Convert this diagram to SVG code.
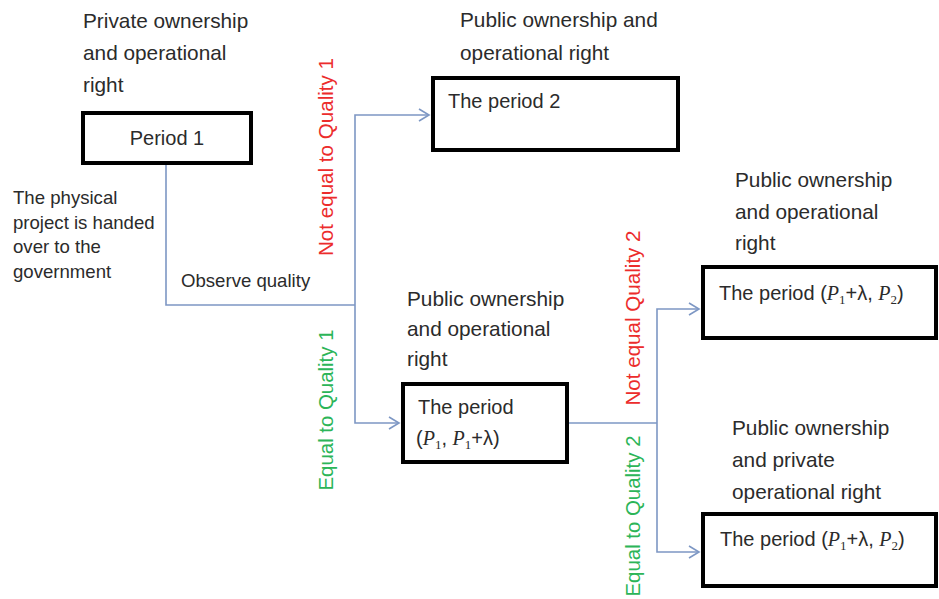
<svg xmlns="http://www.w3.org/2000/svg" width="939" height="599" viewBox="0 0 939 599">
<style>
  text { font-family: "Liberation Sans", Arial, sans-serif; fill: #2b2b2b; }
  .h { font-size: 20.8px; }
  .s { font-size: 18.6px; }
  .lbl { font-size: 20px; }
  .red { fill: #ec2c2c; font-size: 20.6px; }
  .grn { fill: #2cb558; font-size: 20.4px; }
  .box { fill: #ffffff; stroke: #000000; stroke-width: 4; }
  .con { fill: none; stroke: #7d97c4; stroke-width: 1.6; }
  .m { font-family: "Liberation Serif", "Times New Roman", serif; font-style: italic; }
  .sub { font-family: "Liberation Serif", "Times New Roman", serif; font-size: 13px; }
</style>
<defs>
  <marker id="arr" markerWidth="14" markerHeight="14" refX="12" refY="7" orient="auto" markerUnits="userSpaceOnUse">
    <polyline points="2,1 12,7 2,13" fill="none" stroke="#7d97c4" stroke-width="1.6"/>
  </marker>
</defs>
<rect width="939" height="599" fill="#ffffff"/>

<g id="connectors">
  <path class="con" d="M166,164 V305 H355"/>
  <path class="con" d="M355,305 V115 H429" marker-end="url(#arr)"/>
  <path class="con" d="M355,305 V423 H399" marker-end="url(#arr)"/>
  <path class="con" d="M567,423 H657"/>
  <path class="con" d="M657,423 V309 H699" marker-end="url(#arr)"/>
  <path class="con" d="M657,423 V552 H699" marker-end="url(#arr)"/>
</g>

<g id="labels">
  <text class="s" x="13" y="204">The physical</text>
  <text class="s" x="13" y="229">project is handed</text>
  <text class="s" x="13" y="253">over to the</text>
  <text class="s" x="13" y="278">government</text>
  <text class="s" x="181" y="287">Observe quality</text>
  <text class="red" transform="translate(333,157) rotate(-90)" text-anchor="middle">Not equal to Quality 1</text>
  <text class="grn" transform="translate(333,410) rotate(-90)" text-anchor="middle">Equal to Quality 1</text>
  <text class="red" transform="translate(640,318) rotate(-90)" text-anchor="middle">Not equal Quality 2</text>
  <text class="grn" transform="translate(640,516) rotate(-90)" text-anchor="middle">Equal to Quality 2</text>
</g>

<g id="node-period1">
  <text class="h" x="83" y="28">Private ownership</text>
  <text class="h" x="83" y="60">and operational</text>
  <text class="h" x="83" y="92">right</text>
  <rect class="box" x="83" y="113" width="168" height="50"/>
  <text class="lbl" x="167" y="145" text-anchor="middle">Period 1</text>
</g>

<g id="node-period2">
  <text class="h" x="460" y="27">Public ownership and</text>
  <text class="h" x="460" y="60">operational right</text>
  <rect class="box" x="433" y="78" width="245" height="72"/>
  <text class="lbl" x="448" y="108">The period 2</text>
</g>

<g id="node-period-p1">
  <text class="h" x="407" y="306">Public ownership</text>
  <text class="h" x="407" y="336">and operational</text>
  <text class="h" x="407" y="366">right</text>
  <rect class="box" x="403" y="384" width="164" height="78"/>
  <text class="lbl" x="418" y="414">The period</text>
  <text class="lbl" x="416" y="445">(<tspan class="m">P</tspan><tspan class="sub" dy="4">1</tspan><tspan dy="-4">, </tspan><tspan class="m">P</tspan><tspan class="sub" dy="4">1</tspan><tspan dy="-4">+λ)</tspan></text>
</g>

<g id="node-period-p2a">
  <text class="h" x="735" y="187">Public ownership</text>
  <text class="h" x="735" y="219">and operational</text>
  <text class="h" x="735" y="250">right</text>
  <rect class="box" x="703" y="267" width="233" height="71"/>
  <text class="lbl" x="719" y="300">The period (<tspan class="m">P</tspan><tspan class="sub" dy="4">1</tspan><tspan dy="-4">+λ, </tspan><tspan class="m">P</tspan><tspan class="sub" dy="4">2</tspan><tspan dy="-4">)</tspan></text>
</g>

<g id="node-period-p2b">
  <text class="h" x="732" y="435">Public ownership</text>
  <text class="h" x="732" y="467">and private</text>
  <text class="h" x="732" y="499">operational right</text>
  <rect class="box" x="703" y="514" width="233" height="72"/>
  <text class="lbl" x="720" y="546">The period (<tspan class="m">P</tspan><tspan class="sub" dy="4">1</tspan><tspan dy="-4">+λ, </tspan><tspan class="m">P</tspan><tspan class="sub" dy="4">2</tspan><tspan dy="-4">)</tspan></text>
</g>
</svg>
